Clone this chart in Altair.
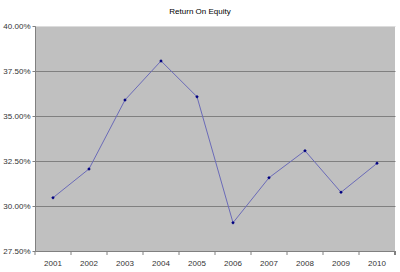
import altair as alt
import pandas as pd

years = ["2001", "2002", "2003", "2004", "2005", "2006", "2007", "2008", "2009", "2010"]
roe = [0.3046, 0.3206, 0.3589, 0.3806, 0.3607, 0.2907, 0.3157, 0.3307, 0.3076, 0.3237]
y_ticks = [0.275, 0.30, 0.325, 0.35, 0.375, 0.40]

df = pd.DataFrame({"year": years, "roe": roe})

W, H = 360, 225
FONT = "Liberation Sans"

xscale = alt.Scale(paddingInner=0, paddingOuter=0)
yscale = alt.Scale(domain=[0.275, 0.40], nice=False, zero=False)

base = alt.Chart(df)

line = base.mark_line(color="#6b6bb8", strokeWidth=1).encode(
    x=alt.X("year:O", scale=xscale, sort=years,
            axis=alt.Axis(title=None, labelAngle=0, ticks=False, domain=True,
                          domainColor="#808080", labelFont=FONT, labelFontSize=8,
                          labelColor="#333333", labelPadding=8, grid=False)),
    y=alt.Y("roe:Q", scale=yscale,
            axis=alt.Axis(title=None, values=y_ticks, format=".2%", tickSize=3,
                          tickColor="#808080", domainColor="#808080",
                          labelFont=FONT, labelFontSize=8, labelColor="#333333",
                          labelPadding=2, grid=True,
                          gridColor=alt.condition("datum.value >= 0.4",
                                                  alt.value("#dcdcdc"),
                                                  alt.value("#808080")),
                          gridWidth=1)),
)

points = base.mark_point(shape="diamond", filled=True, color="#000080", size=12, opacity=1).encode(
    x=alt.X("year:O", sort=years),
    y=alt.Y("roe:Q"),
)

ticks = base.mark_rule(color="#808080").encode(
    x=alt.X("year:O", sort=years, bandPosition=0),
    y=alt.value(H),
    y2=alt.value(H + 4),
)
end_tick = base.mark_rule(color="#808080").encode(
    x=alt.value(W), y=alt.value(H), y2=alt.value(H + 4)
)

chart = alt.layer(line, points, ticks, end_tick).properties(
    width=W,
    height=H,
    title=alt.TitleParams("Return On Equity", font=FONT, fontSize=8,
                          fontWeight="normal", color="#000000", dx=-15, offset=6),
    autosize=alt.AutoSizeParams(type="none"),
    padding={"left": 35, "top": 26, "right": 5, "bottom": 21},
    background="white",
).configure_view(fill="#C0C0C0", stroke=None)

chart.save("out.html", embed_options={"renderer": "svg", "actions": False})
